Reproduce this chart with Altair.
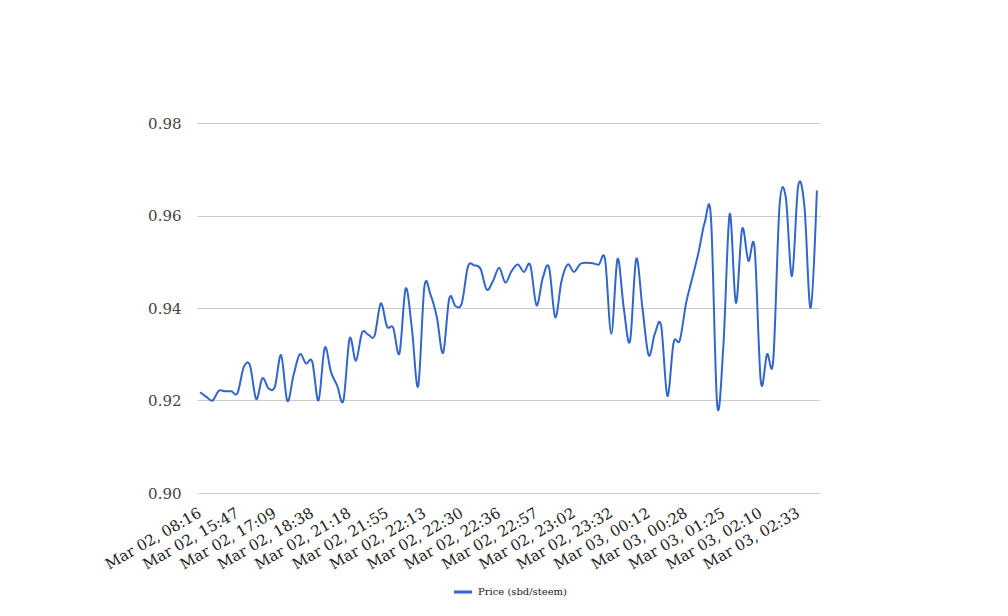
import json
import altair as alt
import pandas as pd

# Tick labels shown on the x axis (every 6th point)
tick_labels = [
    "Mar 02, 08:16", "Mar 02, 15:47", "Mar 02, 17:09", "Mar 02, 18:38",
    "Mar 02, 21:18", "Mar 02, 21:55", "Mar 02, 22:13", "Mar 02, 22:30",
    "Mar 02, 22:36", "Mar 02, 22:57", "Mar 02, 23:02", "Mar 02, 23:32",
    "Mar 03, 00:12", "Mar 03, 00:28", "Mar 03, 01:25", "Mar 03, 02:10",
    "Mar 03, 02:33",
]
label_step = 6

series_name = "Price (sbd/steem)"

# Price values (100 points)
price = [
    0.9218, 0.9208, 0.9200, 0.9221, 0.9220, 0.9220, 0.9216, 0.9272, 0.9276, 0.9203,
    0.9248, 0.9226, 0.9230, 0.9298, 0.9199, 0.9255, 0.9300, 0.9280, 0.9284, 0.9200,
    0.9314, 0.9262, 0.9232, 0.9200, 0.9334, 0.9286, 0.9347, 0.9342, 0.9340, 0.9410,
    0.9360, 0.9357, 0.9302, 0.9442, 0.9355, 0.9231, 0.9446, 0.9428, 0.9380, 0.9303,
    0.9421, 0.9404, 0.9410, 0.9490, 0.9492, 0.9485, 0.9440, 0.9458, 0.9487, 0.9455,
    0.9480, 0.9494, 0.9478, 0.9493, 0.9406, 0.9465, 0.9488, 0.9380, 0.9458, 0.9494,
    0.9478, 0.9495, 0.9498, 0.9497, 0.9494, 0.9505, 0.9344, 0.9506, 0.9400, 0.9328,
    0.9506, 0.9400, 0.9298, 0.9345, 0.9362, 0.9210, 0.9325, 0.9330, 0.9410, 0.9465,
    0.9520, 0.9585, 0.9595, 0.9190, 0.9320, 0.9603, 0.9411, 0.9571, 0.9502, 0.9530,
    0.9241, 0.9300, 0.9288, 0.9620, 0.9640, 0.9469, 0.9664, 0.9620, 0.9400, 0.9654,
]

y_ticks = [0.90, 0.92, 0.94, 0.96, 0.98]

df = pd.DataFrame({
    "idx": list(range(len(price))),
    "price": price,
    "series": [series_name] * len(price),
})

label_expr = json.dumps(tick_labels) + "[round(datum.value / %d)]" % label_step

FONT = "DejaVu Serif"

chart = (
    alt.Chart(df)
    .mark_line(interpolate="cardinal", strokeWidth=2)
    .encode(
        x=alt.X(
            "idx:Q",
            scale=alt.Scale(domain=[-0.5, len(price) - 0.5], nice=False, zero=False),
            axis=alt.Axis(
                values=list(range(0, len(price), label_step)),
                labelExpr=label_expr,
                labelAngle=-30,
                labelAlign="right",
                labelBaseline="top",
                labelPadding=12,
                labelOffset=-4,
                labelOverlap=False,
                labelBound=False,
                labelFlush=False,
                labelFont=FONT,
                labelFontSize=15,
                labelColor="#222222",
                grid=False,
                ticks=False,
                domain=False,
                title=None,
            ),
        ),
        y=alt.Y(
            "price:Q",
            scale=alt.Scale(domain=[0.90, 0.98], nice=False, zero=False),
            axis=alt.Axis(
                values=y_ticks,
                format=".2f",
                labelFont=FONT,
                labelFontSize=15,
                labelColor="#444444",
                labelPadding=16,
                grid=True,
                gridColor="#cccccc",
                ticks=False,
                domain=False,
                title=None,
            ),
        ),
        color=alt.Color(
            "series:N",
            scale=alt.Scale(domain=[series_name], range=["#3366CC"]),
            legend=alt.Legend(
                title=None,
                orient="none",
                legendX=255,
                legendY=458,
                symbolType="stroke",
                symbolSize=330,
                symbolStrokeWidth=3,
                labelFont=FONT,
                labelFontSize=10,
                labelColor="#222222",
            ),
        ),
    )
    .properties(
        width=623,
        height=370,
        autosize=alt.AutoSizeParams(type="none"),
        padding={"left": 189, "top": 115, "right": 180, "bottom": 112},
    )
    .configure(background="white")
    .configure_view(stroke=None, strokeWidth=0)
)

chart.save("out.html", embed_options={"renderer": "svg", "actions": False})
